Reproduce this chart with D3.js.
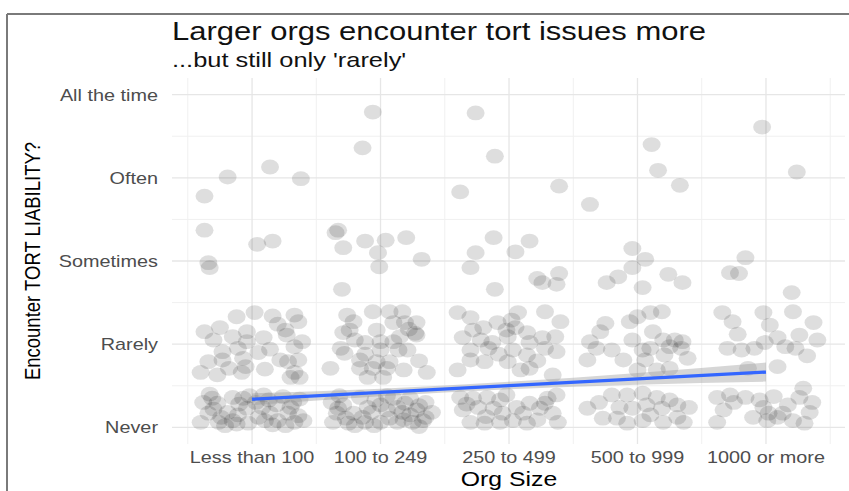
<!DOCTYPE html>
<html>
<head>
<meta charset="utf-8">
<script src="https://cdn.jsdelivr.net/npm/d3@7"></script>
<style>
  html, body { margin: 0; padding: 0; background: #fff; }
  svg { display: block; font-family: "Liberation Sans", Arial, sans-serif; }
</style>
</head>
<body>
<svg id="chart" width="849" height="491"></svg>
<script>
// Org size categories (x) and response levels (y)
const orgSizes = ["Less than 100", "100 to 249", "250 to 499", "500 to 999", "1000 or more"];
const responses = ["Never", "Rarely", "Sometimes", "Often", "All the time"];

// Jittered survey answers per org size: [horizontal jitter, response value]
const less100 = [
  [0.14,4.13],[-0.19,4.01],[0.38,3.99],[-0.37,3.78],[-0.37,3.37],[0.04,3.20],[0.16,3.24],[-0.34,2.98],[-0.33,2.92],
  [0.02,2.38],[-0.12,2.33],[0.16,2.34],[0.33,2.35],[-0.37,2.15],[-0.25,2.20],[-0.04,2.15],[-0.15,2.09],[0.26,2.17],
  [0.36,2.27],[0.27,2.11],[-0.04,2.03],[0.09,2.08],[-0.23,1.91],[-0.11,1.95],[0.33,1.97],[0.39,2.03],[-0.34,1.79],
  [-0.23,1.81],[-0.07,1.83],[-0.05,1.73],[0.22,1.81],[0.28,1.79],[0.36,1.81],[-0.40,1.66],[-0.27,1.63],[-0.08,1.66],
  [0.10,1.70],[0.33,1.66],[0.30,1.60],[0.37,1.60],
  [-0.30,2.05],[0.05,1.90],[0.20,2.24],[-0.18,1.71],[0.14,1.94],
  [-0.38,1.30],[-0.27,1.29],[-0.15,1.36],[-0.07,1.35],[0.09,1.39],[-0.34,1.17],[-0.19,1.18],[-0.04,1.23],[0.08,1.24],
  [0.19,1.27],[0.32,1.30],[-0.40,1.06],[-0.26,1.06],[-0.15,1.08],[-0.03,1.05],[0.10,1.08],[0.20,1.08],[0.33,1.06],
  [0.40,1.08],[0.28,1.17],[-0.11,1.15],[0.14,1.17],[-0.31,1.35],[0.03,1.30],[-0.21,1.02],[0.26,1.02],
  [-0.30,1.22],[-0.10,1.28],[0.13,1.33],[0.24,1.37],[0.05,1.12],[-0.24,1.12],[0.36,1.14],[-0.12,1.04],[0.16,1.03],
  [0.30,1.24],[-0.02,1.38],[-0.33,1.40],[0.37,1.34]
];
const from100to249 = [
  [-0.06,4.79],[-0.14,4.36],[-0.35,3.34],[-0.33,3.37],[-0.29,3.16],[-0.12,3.24],[0.04,3.25],[0.20,3.28],[-0.02,3.10],
  [0.32,3.02],[-0.01,2.93],[-0.30,2.66],
  [-0.26,2.35],[-0.06,2.39],[0.07,2.39],[0.17,2.39],[-0.21,2.27],[-0.29,2.14],[-0.24,2.17],[-0.03,2.17],[0.10,2.26],
  [0.19,2.26],[0.28,2.26],[0.28,2.11],[0.27,2.13],[0.15,2.09],[0.00,2.03],[0.10,2.03],[-0.12,2.02],[-0.31,1.95],
  [-0.28,1.89],[0.00,1.93],[0.14,1.93],[0.21,1.93],[-0.16,1.81],[-0.03,1.79],[0.07,1.79],[-0.39,1.71],[-0.16,1.71],
  [-0.06,1.71],[0.05,1.71],[0.18,1.69],[0.36,1.66],[-0.10,1.60],[0.02,1.60],
  [-0.20,2.05],[0.30,1.80],[-0.12,1.88],[0.22,2.18],
  [-0.38,1.30],[-0.29,1.27],[-0.16,1.36],[-0.04,1.33],[0.10,1.35],[0.23,1.35],[0.35,1.30],[-0.34,1.17],[-0.21,1.17],
  [-0.07,1.18],[0.05,1.21],[0.17,1.18],[0.28,1.21],[0.40,1.18],[-0.37,1.06],[-0.25,1.05],[-0.12,1.06],[0.00,1.06],
  [0.13,1.06],[0.25,1.06],[0.33,1.08],[0.00,1.27],[0.13,1.24],[0.23,1.15],[-0.20,1.02],[0.07,1.11],[0.19,1.29],
  [-0.32,1.38],[-0.10,1.24],[0.30,1.26],[-0.27,1.11],[-0.14,1.12],[0.18,1.09],[0.35,1.12],[0.05,1.38],[-0.05,1.02],
  [0.30,1.01],[-0.33,1.23]
];
const from250to499 = [
  [-0.26,4.78],[-0.11,4.26],[-0.38,3.83],[-0.12,3.28],[-0.26,3.10],[-0.30,2.92],[0.16,3.24],[0.05,3.11],[0.39,3.90],
  [0.39,2.85],[0.22,2.79],[-0.11,2.66],[0.26,2.74],[0.37,2.72],
  [-0.40,2.38],[-0.30,2.32],[0.07,2.38],[0.02,2.29],[0.28,2.39],[0.40,2.27],[-0.28,2.17],[-0.20,2.20],[-0.02,2.17],
  [0.14,2.14],[-0.09,2.26],[-0.36,2.08],[-0.13,2.02],[-0.01,2.09],[0.16,2.02],[0.26,2.08],[0.36,2.09],[-0.30,1.93],
  [-0.16,1.95],[0.03,1.93],[0.14,1.87],[0.28,1.95],[0.37,1.91],[-0.30,1.81],[-0.40,1.69],[-0.19,1.79],[-0.01,1.79],
  [0.09,1.69],[0.16,1.71],[0.34,1.63],
  [-0.22,2.05],[0.05,2.20],[0.22,1.80],[-0.08,1.88],
  [-0.38,1.36],[-0.28,1.35],[-0.17,1.36],[-0.07,1.33],[-0.36,1.21],[-0.24,1.24],[-0.12,1.23],[-0.05,1.17],[-0.30,1.06],
  [-0.19,1.05],[-0.07,1.06],[0.03,1.08],[0.11,1.17],[0.16,1.29],[0.30,1.35],[0.37,1.39],[0.24,1.23],[0.34,1.17],
  [0.14,1.05],[0.38,1.06],
  [-0.33,1.28],[-0.18,1.13],[0.06,1.24],[0.22,1.09],[0.28,1.29],[-0.02,1.39]
];
const from500to999 = [
  [0.11,4.40],[0.16,4.09],[0.33,3.91],[-0.37,3.68],[-0.04,3.15],[0.06,3.02],[-0.04,2.92],[-0.15,2.81],[0.24,2.84],
  [-0.24,2.74],[0.04,2.68],[0.35,2.74],
  [-0.29,2.15],[-0.37,2.03],[-0.32,1.95],[-0.20,1.93],[-0.39,1.81],[-0.11,1.81],[-0.06,2.27],[0.00,2.33],[0.10,2.38],
  [0.19,2.39],[-0.04,2.05],[0.04,1.93],[0.20,2.05],[0.29,2.05],[0.35,2.03],[0.25,1.97],[0.34,1.95],[0.21,1.87],
  [0.39,1.83],[0.06,1.81],[0.00,1.69],[0.15,1.69],[0.25,1.71],
  [0.12,2.15],[-0.25,2.25],[0.10,1.95],
  [-0.39,1.23],[-0.27,1.11],[-0.20,1.39],[-0.08,1.39],[0.04,1.41],[0.15,1.36],[-0.14,1.24],[-0.04,1.23],[0.07,1.27],
  [0.19,1.23],[0.31,1.27],[0.40,1.24],[-0.16,1.11],[0.04,1.08],[0.20,1.06],[0.31,1.12],
  [-0.30,1.30],[0.10,1.15],[0.25,1.33],[-0.08,1.05],[0.36,1.06]
];
const from1000 = [
  [-0.03,4.61],[0.24,4.07],[-0.16,3.04],[-0.28,2.86],[-0.21,2.85],[0.20,2.62],
  [-0.34,2.38],[-0.26,2.27],[-0.02,2.38],[0.03,2.23],[0.21,2.39],[0.37,2.26],[0.26,2.11],[0.40,2.05],[-0.30,1.95],
  [-0.19,1.93],[-0.09,1.95],[-0.01,2.02],[0.09,2.08],[0.15,1.97],[0.23,1.95],[-0.14,1.71],[0.09,1.73],
  [-0.22,2.12],[0.32,1.86],
  [-0.38,1.36],[-0.28,1.39],[-0.16,1.36],[-0.33,1.21],[-0.38,1.06],[-0.02,1.24],[0.02,1.17],[0.01,1.08],[0.09,1.12],
  [0.17,1.27],[0.26,1.36],[0.36,1.30],[0.34,1.18],[0.21,1.08],[-0.05,1.33],[0.29,1.47],[0.13,1.17],
  [-0.25,1.30],[0.06,1.37],[0.30,1.05],[-0.10,1.12]
];

// Linear fit with its confidence band, evaluated at each org size
const fitX = [1, 2, 3, 4, 5];
const fitY = [1.338, 1.420, 1.502, 1.583, 1.665];
const fitLow = [1.268, 1.375, 1.457, 1.513, 1.550];
const fitHigh = [1.408, 1.465, 1.547, 1.653, 1.780];

const titleText = "Larger orgs encounter tort issues more";
const subtitleText = "...but still only 'rarely'";
const xTitle = "Org Size";
const yTitle = "Encounter TORT LIABILITY?";

// ---- layout ----
const svg = d3.select("#chart");
const panel = { left: 172, right: 845, top: 78, bottom: 444 };
const stretch = 1.24;   // wide text aspect

const x = d3.scaleLinear().domain([0.377, 5.615]).range([panel.left, panel.right]);
const y = d3.scaleLinear().domain([0.8, 5.2]).range([panel.bottom, panel.top]);

// frame lines
svg.append("line").attr("x1", 7).attr("x2", 849).attr("y1", 14).attr("y2", 14)
  .attr("stroke", "#7a7a7a").attr("stroke-width", 2);
svg.append("line").attr("x1", 7).attr("x2", 7).attr("y1", 14).attr("y2", 491)
  .attr("stroke", "#7a7a7a").attr("stroke-width", 2);

// grid
const grid = svg.append("g");
const yMinor = [1.5, 2.5, 3.5, 4.5];
const xMinor = [0.5, 1.5, 2.5, 3.5, 4.5, 5.5];
grid.selectAll("line.ymin").data(yMinor).join("line")
  .attr("x1", panel.left).attr("x2", panel.right)
  .attr("y1", d => y(d)).attr("y2", d => y(d))
  .attr("stroke", "#f0f0f0").attr("stroke-width", 1);
grid.selectAll("line.xmin").data(xMinor).join("line")
  .attr("y1", panel.top).attr("y2", panel.bottom)
  .attr("x1", d => x(d)).attr("x2", d => x(d))
  .attr("stroke", "#f0f0f0").attr("stroke-width", 1);
grid.selectAll("line.ymaj").data(d3.range(1, 6)).join("line")
  .attr("x1", panel.left).attr("x2", panel.right)
  .attr("y1", d => y(d)).attr("y2", d => y(d))
  .attr("stroke", "#e6e6e6").attr("stroke-width", 1.3);
grid.selectAll("line.xmaj").data(d3.range(1, 6)).join("line")
  .attr("y1", panel.top).attr("y2", panel.bottom)
  .attr("x1", d => x(d)).attr("x2", d => x(d))
  .attr("stroke", "#e6e6e6").attr("stroke-width", 1.3);

// points
const groups = [less100, from100to249, from250to499, from500to999, from1000];
const pts = groups.flatMap((g, i) => g.map(([dx, v]) => ({ xv: i + 1 + dx, yv: v })));
svg.append("g").selectAll("ellipse").data(pts).join("ellipse")
  .attr("cx", d => x(d.xv)).attr("cy", d => y(d.yv))
  .attr("rx", 9).attr("ry", 7.4)
  .attr("fill", "#000").attr("fill-opacity", 0.13);

// smoother band and line
const fit = fitX.map((v, i) => ({ xv: v, yv: fitY[i], lo: fitLow[i], hi: fitHigh[i] }));
svg.append("path").datum(fit)
  .attr("d", d3.area().x(d => x(d.xv)).y0(d => y(d.lo)).y1(d => y(d.hi)).curve(d3.curveMonotoneX))
  .attr("fill", "#999").attr("fill-opacity", 0.4);
svg.append("path").datum(fit)
  .attr("d", d3.line().x(d => x(d.xv)).y(d => y(d.yv)))
  .attr("fill", "none").attr("stroke", "#3366FF").attr("stroke-width", 3.3);

// text helper with widened glyphs
function label(px, py, txt, opts) {
  const g = svg.append("g").attr("transform", `translate(${px},${py}) scale(${stretch},1)` + (opts.rotate ? ` rotate(${opts.rotate})` : ""));
  g.append("text").text(txt)
    .attr("text-anchor", opts.anchor || "start")
    .attr("font-size", opts.size)
    .attr("fill", opts.color || "#000");
}

// axes labels
responses.forEach((r, i) => label(158, y(i + 1) + 6, r, { anchor: "end", size: 16, color: "#4d4d4d" }));
orgSizes.forEach((s, i) => label(x(i + 1), 463, s, { anchor: "middle", size: 16, color: "#4d4d4d" }));
label(x(3), 486, xTitle, { anchor: "middle", size: 20, color: "#000" });
label(40, (panel.top + panel.bottom) / 2, yTitle, { anchor: "middle", size: 18.5, color: "#000", rotate: -90 });

// titles
label(172, 40, titleText, { size: 25, color: "#111" });
label(172, 67, subtitleText, { size: 20.5, color: "#111" });
</script>
</body>
</html>
